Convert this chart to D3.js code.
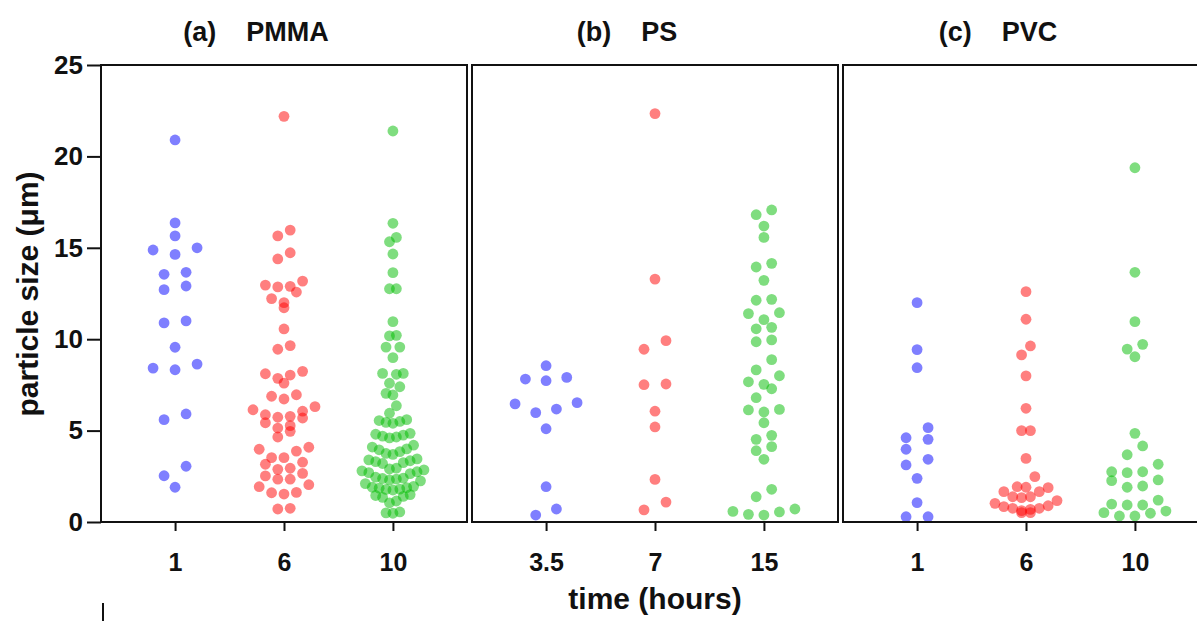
<!DOCTYPE html>
<html>
<head>
<meta charset="utf-8">
<script src="https://cdn.jsdelivr.net/npm/d3@7"></script>
<style>
  body { margin: 0; background: #fff; }
  svg { display: block; font-family: "Liberation Sans", Arial, sans-serif; font-weight: bold; }
</style>
</head>
<body>
<svg id="chart"></svg>
<script>
// particle sizes (um), one array per polymer and time point
const polymers = ["PMMA", "PS", "PVC"];
const panelTags = ["(a)", "(b)", "(c)"];
const timeLabels = [["1", "6", "10"], ["3.5", "7", "15"], ["1", "6", "10"]];
const yTicks = [0, 5, 10, 15, 20, 25];
const timeColors = ["#0000ff", "#ff0000", "#00bb00"];

const pmma_1h = [20.9, 16.36, 15.65, 15.0, 14.88, 14.64, 13.66, 13.55, 12.91, 12.71, 11.0, 10.89,
    9.56, 8.64, 8.42, 8.33, 5.91, 5.6, 3.05, 2.53, 1.9];
const pmma_6h = [22.19, 15.97, 15.65, 14.73, 14.39, 13.18, 12.96, 12.89, 12.86, 12.58, 12.22, 12.0,
    11.72, 10.56, 9.65, 9.45, 8.24, 8.11, 8.04, 7.86, 7.60, 6.96, 6.88, 6.73, 6.31, 6.14, 6.06, 5.87,
    5.78, 5.73, 5.69, 5.43, 5.27, 5.14, 4.96, 4.65, 4.09, 3.98, 3.88, 3.52, 3.52, 3.27, 3.16, 2.94,
    2.88, 2.66, 2.52, 2.34, 2.34, 2.04, 1.93, 1.62, 1.60, 1.53, 0.75, 0.71];
const pmma_10h = [21.39, 16.34, 15.57, 15.33, 14.66, 13.64, 12.76, 12.76, 10.96, 10.21, 10.18, 9.57,
    9.57, 8.99, 8.13, 8.13, 8.08, 7.59, 7.40, 7.04, 6.95, 6.36, 5.95, 5.6, 5.55, 5.5, 5.45, 5.4, 4.85,
    4.8, 4.75, 4.7, 4.65, 4.6, 4.2, 4.1, 4.0, 3.95, 3.85, 3.75, 3.7, 3.45, 3.4, 3.35, 3.3, 3.25, 3.2,
    2.95, 2.9, 2.85, 2.8, 2.75, 2.7, 2.65, 2.45, 2.4, 2.38, 2.35, 2.3, 2.25, 2.1, 1.95, 1.9, 1.88, 1.85,
    1.8, 1.78, 1.75, 1.5, 1.45, 1.4, 1.35, 1.15, 1.05, 0.55, 0.5, 0.48];

const ps_3_5h = [8.55, 7.91, 7.82, 7.73, 6.53, 6.46, 6.18, 5.98, 5.10, 1.93, 0.71, 0.38];
const ps_7h = [22.34, 13.29, 9.92, 9.45, 7.55, 7.51, 6.06, 5.20, 2.33, 1.09, 0.66];
const ps_15h = [17.07, 16.81, 16.19, 15.57, 14.15, 13.95, 13.22, 12.18, 12.13, 11.45, 11.40, 11.07,
    10.65, 10.57, 9.96, 9.86, 8.88, 8.32, 8.00, 7.67, 7.53, 7.29, 6.80, 6.16, 6.13, 6.02, 5.43, 4.74,
    4.52, 4.12, 3.90, 3.43, 1.79, 1.38, 0.71, 0.58, 0.55, 0.42, 0.38];

const pvc_1h = [12.0, 9.43, 8.44, 5.16, 4.61, 4.52, 3.98, 3.43, 3.12, 2.39, 1.06, 0.29, 0.29];
const pvc_6h = [12.6, 11.09, 9.63, 9.14, 7.99, 6.22, 5.0, 5.0, 3.48, 2.48, 1.93, 1.90, 1.88, 1.66,
    1.66, 1.38, 1.38, 1.33, 1.17, 1.02, 0.89, 0.84, 0.75, 0.75, 0.69, 0.62, 0.51, 0.51];
const pvc_10h = [19.38, 13.66, 10.96, 9.72, 9.46, 9.04, 4.85, 4.16, 3.68, 3.16, 2.75, 2.75, 2.70,
    2.30, 2.26, 1.97, 1.90, 1.20, 0.98, 0.93, 0.93, 0.60, 0.51, 0.48, 0.33, 0.33];

const series = [
    [pmma_1h, pmma_6h, pmma_10h],
    [ps_3_5h, ps_7h, ps_15h],
    [pvc_1h, pvc_6h, pvc_10h]
];

const width = 1197, height = 621;
const r = 5.4;
const ink = "#111";

const svg = d3.select("#chart").attr("width", width).attr("height", height);

const y = d3.scaleLinear().domain([0, 25]).range([522, 65]);
const panel = d3.scaleBand().domain(polymers).range([101, 1209]).paddingInner(0.0135);

// prism-like column scatter: points closer than one diameter go in one row,
// each row is centred and spread with the same spacing for the whole group
function swarm(values) {
    const pts = values.map(v => ({ v: v, py: y(v) })).sort((a, b) => a.py - b.py);
    const rows = [];
    let row = null;
    pts.forEach(p => {
        if (!row || p.py - row[0].py > 2 * r) {
            row = [];
            rows.push(row);
        }
        row.push(p);
    });
    const maxN = d3.max(rows, d => d.length);
    const step = maxN > 1 ? Math.min(22, 62 / (maxN - 1)) : 22;
    rows.forEach(row => {
        const n = row.length;
        // lowest point in the middle, higher ones pushed outwards
        const order = row.slice().sort((a, b) => b.py - a.py);
        const slots = d3.range(n).map(i => i - (n - 1) / 2)
            .sort((a, b) => Math.abs(a) - Math.abs(b) || a - b);
        order.forEach((p, i) => { p.dx = slots[i] * step; });
    });
    return pts;
}

polymers.forEach((p, i) => {
    const g = svg.append("g").attr("transform", `translate(${panel(p)},0)`);
    const x = d3.scalePoint().domain(timeLabels[i]).range([0, panel.bandwidth()]).padding(0.68);

    // points
    series[i].forEach((vals, j) => {
        g.append("g")
            .selectAll("circle")
            .data(swarm(vals))
            .join("circle")
            .attr("cx", d => x(timeLabels[i][j]) + d.dx)
            .attr("cy", d => y(d.v))
            .attr("r", r)
            .attr("fill", timeColors[j])
            .attr("fill-opacity", 0.5);
    });

    // frame
    g.append("rect")
        .attr("x", 0)
        .attr("y", y(25))
        .attr("width", panel.bandwidth())
        .attr("height", y(0) - y(25))
        .attr("fill", "none")
        .attr("stroke", ink)
        .attr("stroke-width", 2);

    // x axis
    g.append("g")
        .attr("transform", `translate(0,${y(0)})`)
        .call(d3.axisBottom(x).tickSize(9).tickPadding(22))
        .call(a => a.select(".domain").remove())
        .attr("font-size", null)
        .attr("font-family", null)
        .call(a => a.selectAll("line").attr("stroke", ink).attr("stroke-width", 2))
        .call(a => a.selectAll("text").attr("fill", ink).style("font-size", "25px"));

    // panel title
    g.append("text")
        .attr("x", 155)
        .attr("y", 41)
        .attr("text-anchor", "middle")
        .attr("fill", ink)
        .style("font-size", "27px")
        .style("white-space", "pre")
        .text(panelTags[i] + "\u00a0\u00a0\u00a0\u00a0" + p);
});

// y axis
svg.append("g")
    .attr("transform", `translate(${panel("PMMA")},0)`)
    .call(d3.axisLeft(y).tickValues(yTicks).tickSize(14).tickPadding(4))
    .call(a => a.select(".domain").remove())
    .attr("font-size", null)
    .attr("font-family", null)
    .call(a => a.selectAll("line").attr("stroke", ink).attr("stroke-width", 2))
    .call(a => a.selectAll("text").attr("fill", ink).style("font-size", "26px"));

svg.append("text")
    .attr("transform", "translate(38,294) rotate(-90)")
    .attr("text-anchor", "middle")
    .attr("fill", ink)
    .style("font-size", "30px")
    .text("particle size (\u03bcm)");

svg.append("text")
    .attr("x", 655)
    .attr("y", 609)
    .attr("text-anchor", "middle")
    .attr("fill", ink)
    .style("font-size", "30px")
    .text("time (hours)");

// small stray stroke below the axis in the original
svg.append("line")
    .attr("x1", 103).attr("x2", 103)
    .attr("y1", 603).attr("y2", 621)
    .attr("stroke", ink)
    .attr("stroke-width", 2);
</script>
</body>
</html>
